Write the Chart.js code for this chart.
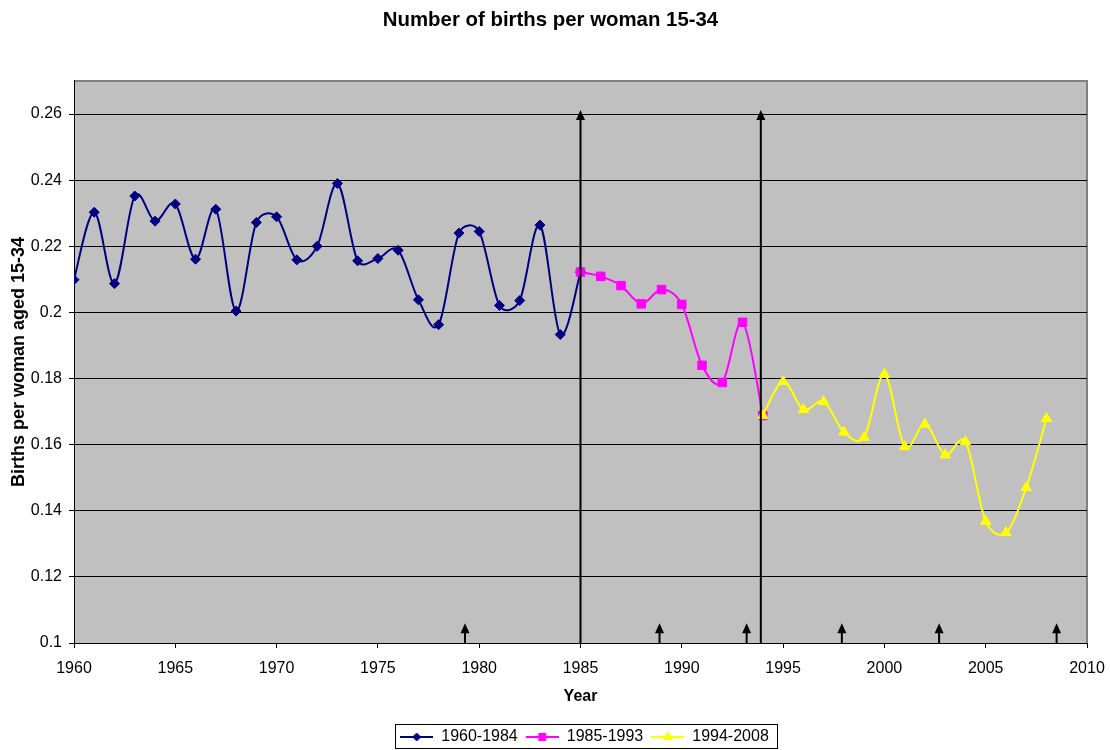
<!DOCTYPE html>
<html>
<head>
<meta charset="utf-8">
<title>Number of births per woman 15-34</title>
<script src="https://cdn.jsdelivr.net/npm/chart.js@4.4.1/dist/chart.umd.min.js"></script>
<style>
  html, body { margin: 0; padding: 0; background: #fff; }
  #wrap { width: 1110px; height: 750px; }
</style>
</head>
<body>
<div id="wrap"><canvas id="births-chart" width="1110" height="750"></canvas></div>
<script>
// ---- data ----
const years1 = [1960, 1961, 1962, 1963, 1964, 1965, 1966, 1967, 1968, 1969, 1970, 1971, 1972,
  1973, 1974, 1975, 1976, 1977, 1978, 1979, 1980, 1981, 1982, 1983, 1984, 1985];
const births1 = [0.2099, 0.2303, 0.2087, 0.2352, 0.2276, 0.2328, 0.2161, 0.2312, 0.2004, 0.2272,
  0.2289, 0.2159, 0.2200, 0.2390, 0.2156, 0.2163, 0.2188, 0.2038, 0.1963, 0.2240, 0.2245, 0.2021,
  0.2036, 0.2264, 0.1933, 0.2122];

const years2 = [1985, 1986, 1987, 1988, 1989, 1990, 1991, 1992, 1993, 1994];
const births2 = [0.2122, 0.2109, 0.2081, 0.2026, 0.2069, 0.2024, 0.1840, 0.1788, 0.1970, 0.1688];

const years3 = [1994, 1995, 1996, 1997, 1998, 1999, 2000, 2001, 2002, 2003, 2004, 2005, 2006, 2007, 2008];
const births3 = [0.1688, 0.1791, 0.1706, 0.1730, 0.1638, 0.1622, 0.1813, 0.1594, 0.1662, 0.1569,
  0.1609, 0.1368, 0.1334, 0.1470, 0.1679];

const seriesLabels = ["1960-1984", "1985-1993", "1994-2008"];

// arrows (year, top value); all start at the bottom of the axis
const tallArrowYears = [1985, 1993.9];
const tallArrowTop = 0.2612;
const shortArrowYears = [1979.3, 1988.9, 1993.2, 1997.9, 2002.7, 2008.5];
const shortArrowTop = 0.106;

// axes
const xTicks = [1960, 1965, 1970, 1975, 1980, 1985, 1990, 1995, 2000, 2005, 2010];
const yTicks = [0.1, 0.12, 0.14, 0.16, 0.18, 0.2, 0.22, 0.24, 0.26];
const yTickLabels = ["0.1", "0.12", "0.14", "0.16", "0.18", "0.2", "0.22", "0.24", "0.26"];

const FONT = "'Liberation Sans', Arial, sans-serif";
const colors = ["#000080", "#FF00FF", "#FFFF00"];
const styles = ["rectRot", "rect", "triangle"];
const radii = [5, 6, 6];

function toPoints(xs, ys) {
  return xs.map((x, i) => ({ x: x, y: ys[i] }));
}

// legend sample: short line with the marker in the middle
function makeIcon(i) {
  const c = document.createElement("canvas");
  c.width = 33;
  c.height = 14;
  const g = c.getContext("2d");
  g.strokeStyle = colors[i];
  g.lineWidth = 2;
  g.beginPath();
  g.moveTo(0, 7);
  g.lineTo(33, 7);
  g.stroke();
  g.fillStyle = colors[i];
  g.lineWidth = 1;
  Chart.helpers.drawPoint(g, { pointStyle: styles[i], radius: radii[i] - 1, rotation: 0, borderWidth: 1 }, 16.5, 7);
  return c;
}

// title and legend sit a little right of centre in the original
const nudge = {
  id: "nudge",
  afterLayout(chart) {
    chart.titleBlock.left += 7;
    chart.titleBlock.right += 7;
    chart.legend.left += 4;
    chart.legend.right += 4;
  }
};

// grey plot area with a grey frame on top/right
const plotArea = {
  id: "plotArea",
  beforeDraw(chart) {
    const { ctx, chartArea: a } = chart;
    ctx.save();
    ctx.fillStyle = "#C0C0C0";
    ctx.fillRect(a.left, a.top, a.right - a.left, a.bottom - a.top);
    ctx.strokeStyle = "#808080";
    ctx.lineWidth = 2;
    ctx.beginPath();
    ctx.moveTo(a.left, a.top);
    ctx.lineTo(a.right, a.top);
    ctx.lineTo(a.right, a.bottom);
    ctx.stroke();
    ctx.restore();
  }
};

// spreadsheet-style smoothing: arms of 1/6 of the neighbour chord,
// capped at half the segment length
const smoothLines = {
  id: "smoothLines",
  beforeDatasetsDraw(chart) {
    chart.getSortedVisibleDatasetMetas().forEach(meta => {
      const line = meta.dataset;
      if (!line) return;
      line.updateControlPoints(chart.chartArea, "x");
      const p = meta.data;
      const dist = (a, b) => Math.hypot(a.x - b.x, a.y - b.y);
      for (let i = 0; i < p.length; i++) {
        const P = p[i];
        const A = p[i - 1] || P;
        const B = p[i + 1] || P;
        const dAB = dist(A, B);
        const dx = B.x - A.x, dy = B.y - A.y;
        const fNext = dAB > 0 ? Math.min(1 / 6, 0.5 * dist(P, B) / dAB) : 0;
        const fPrev = dAB > 0 ? Math.min(1 / 6, 0.5 * dist(P, A) / dAB) : 0;
        P.cp2x = P.x + dx * fNext;
        P.cp2y = P.y + dy * fNext;
        P.cp1x = P.x - dx * fPrev;
        P.cp1y = P.y - dy * fPrev;
      }
      line._path = undefined;
    });
  }
};

function drawArrow(ctx, x, yBase, yTip) {
  ctx.beginPath();
  ctx.moveTo(x, yBase);
  ctx.lineTo(x, yTip + 8);
  ctx.stroke();
  ctx.beginPath();
  ctx.moveTo(x, yTip);
  ctx.lineTo(x - 4.5, yTip + 10);
  ctx.lineTo(x + 4.5, yTip + 10);
  ctx.closePath();
  ctx.fill();
}

const arrows = {
  id: "arrows",
  afterDatasetsDraw(chart) {
    const { ctx, scales } = chart;
    const xs = scales.x, ys = scales.y;
    const base = ys.getPixelForValue(yTicks[0]);
    ctx.save();
    ctx.strokeStyle = "#000";
    ctx.fillStyle = "#000";
    ctx.lineWidth = 2;
    tallArrowYears.forEach(yr => drawArrow(ctx, xs.getPixelForValue(yr), base, ys.getPixelForValue(tallArrowTop)));
    shortArrowYears.forEach(yr => drawArrow(ctx, xs.getPixelForValue(yr), base, ys.getPixelForValue(shortArrowTop)));
    ctx.restore();
  }
};

// black frame round the legend items
const legendFrame = {
  id: "legendFrame",
  afterDraw(chart) {
    const boxes = chart.legend && chart.legend.legendHitBoxes;
    if (!boxes || !boxes.length) return;
    const first = boxes[0], last = boxes[boxes.length - 1];
    const ctx = chart.ctx;
    ctx.save();
    ctx.strokeStyle = "#000";
    ctx.lineWidth = 1;
    const left = Math.round(first.left - 5) + 0.5;
    const right = Math.round(last.left + last.width + 8) + 0.5;
    ctx.strokeRect(left, 724.5, right - left, 24);
    ctx.restore();
  }
};

const datasets = [births1, births2, births3].map((vals, i) => ({
  label: seriesLabels[i],
  data: toPoints([years1, years2, years3][i], vals),
  borderColor: colors[i],
  backgroundColor: colors[i],
  borderWidth: 2,
  tension: 0.4,
  pointStyle: styles[i],
  pointRadius: radii[i],
  pointBorderWidth: 1,
  pointBackgroundColor: colors[i],
  pointBorderColor: colors[i],
  order: 3 - i
}));

const icons = [0, 1, 2].map(makeIcon);

new Chart(document.getElementById("births-chart"), {
  type: "line",
  data: { datasets: datasets },
  options: {
    responsive: false,
    animation: false,
    layout: { padding: { left: 0, right: 23, top: 0, bottom: -5 } },
    plugins: {
      tooltip: { enabled: false },
      title: {
        display: true,
        text: "Number of births per woman 15-34",
        color: "#000",
        font: { family: FONT, size: 20.4, weight: "bold" },
        padding: { top: 8, bottom: 48.5 }
      },
      legend: {
        position: "bottom",
        fullSize: false,
        labels: {
          color: "#000",
          font: { family: FONT, size: 16 },
          usePointStyle: true,
          pointStyleWidth: 33,
          padding: 8,
          generateLabels: () => seriesLabels.map((t, i) => ({
            text: t,
            pointStyle: icons[i],
            datasetIndex: i,
            hidden: false,
            lineWidth: 0,
            fillStyle: "transparent",
            strokeStyle: "transparent",
            fontColor: "#000"
          }))
        }
      }
    },
    scales: {
      x: {
        type: "linear",
        min: xTicks[0],
        max: xTicks[xTicks.length - 1],
        afterBuildTicks: s => { s.ticks = xTicks.map(v => ({ value: v })); },
        afterFit: s => { s.height = 78; s.paddingLeft = 0; s.paddingRight = 18; },
        grid: { drawOnChartArea: false, drawTicks: true, tickLength: 5, tickColor: "#000", color: "#000" },
        border: { color: "#000", width: 1 },
        ticks: {
          color: "#000",
          font: { family: FONT, size: 16 },
          padding: 11,
          maxRotation: 0,
          autoSkip: false,
          callback: v => String(v)
        },
        title: {
          display: true,
          text: "Year",
          color: "#000",
          font: { family: FONT, size: 16, weight: "bold" },
          padding: { top: 0, bottom: 15 }
        }
      },
      y: {
        min: 0.1,
        max: 0.27,
        afterBuildTicks: s => { s.ticks = yTicks.map(v => ({ value: v })); },
        afterFit: s => { s.width = 74; },
        grid: { color: "#000", lineWidth: 1, drawTicks: true, tickLength: 5, tickColor: "#000" },
        border: { color: "#000", width: 1 },
        ticks: {
          color: "#000",
          font: { family: FONT, size: 16 },
          padding: 7,
          callback: (v, i) => yTickLabels[i]
        },
        title: {
          display: true,
          text: "Births per woman aged 15-34",
          color: "#000",
          font: { family: FONT, size: 18, weight: "bold" },
          padding: { top: 8, bottom: 0 }
        }
      }
    }
  },
  plugins: [nudge, plotArea, smoothLines, arrows, legendFrame]
});
</script>
</body>
</html>
